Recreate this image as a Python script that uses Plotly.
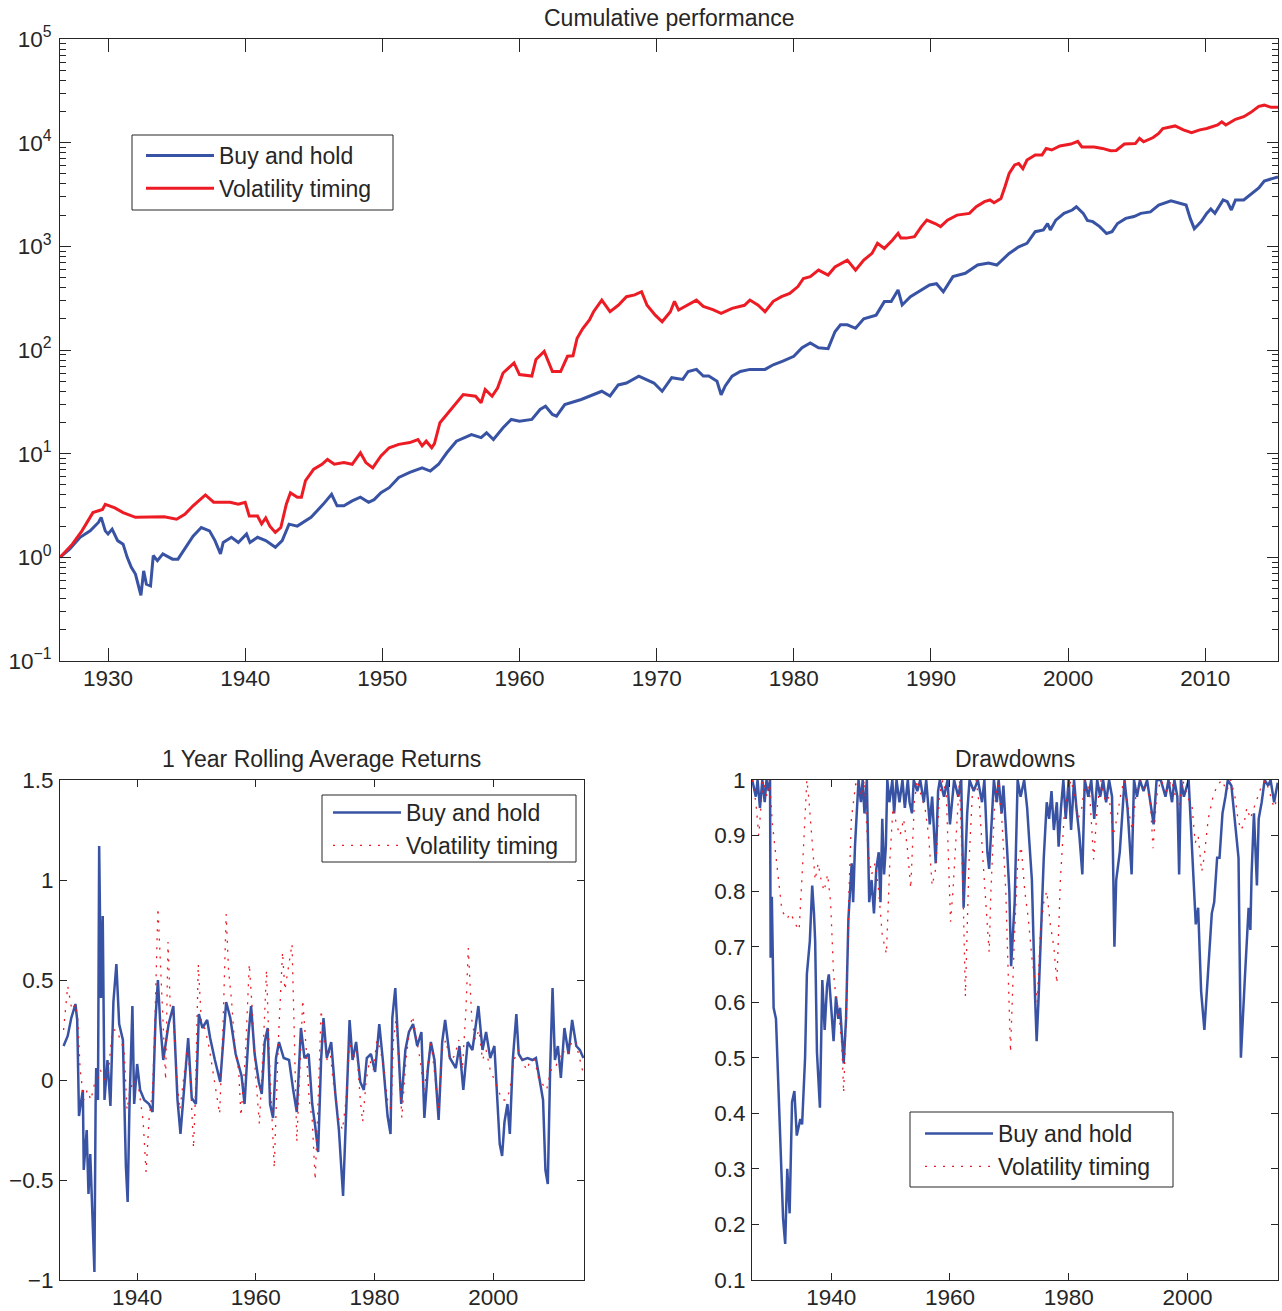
import plotly.graph_objects as go

# ---------------- data ----------------
# Cumulative performance (log scale)
cum_years_bh = [1926.5, 1927.2, 1927.97, 1928.7, 1929.3, 1929.5, 1929.8, 1930.0, 1930.3, 1930.7,
                1931.1, 1931.4, 1931.7, 1932.0, 1932.4, 1932.6, 1932.8, 1933.1, 1933.3, 1933.6,
                1934.0, 1934.7, 1935.1, 1935.6, 1936.2, 1936.8, 1937.4, 1937.8, 1938.2, 1938.4,
                1939.0, 1939.5, 1940.1, 1940.35, 1940.9, 1941.5, 1942.2, 1942.7, 1943.2, 1943.8,
                1944.8, 1945.7, 1946.3, 1946.7, 1947.2, 1947.8, 1948.4, 1949.0, 1949.4, 1949.9,
                1950.5, 1951.2, 1952.0, 1952.9, 1953.5, 1954.1, 1954.7, 1955.4, 1956.5, 1957.2,
                1957.6, 1958.1, 1958.8, 1959.4, 1960.0, 1960.9, 1961.5, 1961.9, 1962.4, 1962.7,
                1963.3, 1964.5, 1965.4, 1966.0, 1966.6, 1967.2, 1967.8, 1968.7, 1969.8, 1970.4,
                1971.1, 1971.9, 1972.3, 1972.9, 1973.4, 1973.8, 1974.4, 1974.7, 1975.0, 1975.5,
                1976.1, 1976.8, 1977.9, 1978.5, 1979.2, 1980.0, 1980.6, 1981.2, 1981.8, 1982.5,
                1983.0, 1983.4, 1983.9, 1984.5, 1985.1, 1986.0, 1986.6, 1987.1, 1987.6, 1987.9,
                1988.5, 1989.3, 1989.9, 1990.4, 1990.9, 1991.6, 1992.5, 1993.4, 1994.2, 1994.8,
                1995.7, 1996.4, 1997.0, 1997.6, 1998.2, 1998.5, 1998.7, 1999.1, 1999.7, 2000.3,
                2000.6, 2001.1, 2001.4, 2001.8, 2002.3, 2002.8, 2003.2, 2003.6, 2004.2, 2004.8,
                2005.3, 2006.0, 2006.6, 2007.5, 2008.1, 2008.6, 2008.9, 2009.2, 2009.7, 2010.1,
                2010.4, 2010.7, 2011.3, 2011.6, 2011.9, 2012.2, 2012.8, 2013.3, 2013.9, 2014.3,
                2014.9, 2015.3]
cum_bh = [1.0, 1.2, 1.56, 1.8, 2.17, 2.43, 1.8, 1.68, 1.87, 1.45,
          1.34, 1.0, 0.80, 0.69, 0.43, 0.74, 0.55, 0.53, 1.04, 0.93,
          1.08, 0.96, 0.96, 1.2, 1.6, 1.94, 1.8, 1.45, 1.08, 1.39,
          1.56, 1.39, 1.68, 1.39, 1.56, 1.45, 1.25, 1.45, 2.09, 2.0,
          2.43, 3.26, 4.06, 3.14, 3.14, 3.5, 3.8, 3.4, 3.6, 4.2,
          4.7, 5.9, 6.6, 7.3, 6.8, 7.9, 10.2, 13.2, 15.3, 14.3,
          15.9, 13.7, 17.8, 21.4, 20.6, 21.4, 26.7, 28.7, 23.9, 23.0,
          29.8, 33.3, 37.2, 40.0, 36.0, 46.0, 48.0, 56.0, 48.0, 40.0,
          54.0, 52.0, 62.0, 65.0, 56.0, 56.0, 50.0, 37.0, 45.0, 56.0,
          62.0, 65.0, 65.0, 72.0, 78.0, 87.0, 105.0, 117.0, 105.0, 103.0,
          150.0, 175.0, 175.0, 162.0, 200.0, 217.0, 293.0, 293.0, 380.0, 272.0,
          327.0, 380.0, 424.0, 436.0, 365.0, 510.0, 550.0, 660.0, 690.0, 660.0,
          855.0, 990.0, 1070.0, 1385.0, 1440.0, 1660.0, 1440.0, 1790.0, 2080.0, 2240.0,
          2410.0, 2080.0, 1780.0, 1730.0, 1550.0, 1330.0, 1385.0, 1660.0, 1860.0, 1940.0,
          2080.0, 2150.0, 2500.0, 2750.0, 2630.0, 2500.0, 1860.0, 1480.0, 1730.0, 2080.0,
          2290.0, 2080.0, 2800.0, 2700.0, 2240.0, 2800.0, 2800.0, 3140.0, 3650.0, 4270.0,
          4540.0, 4680.0]

cum_years_vt = [1926.5, 1927.4, 1928.1, 1928.9, 1929.6, 1929.8, 1930.5, 1931.1, 1932.0, 1933.2,
                1934.1, 1935.0, 1935.6, 1936.2, 1937.1, 1937.7, 1938.9, 1939.5, 1940.0, 1940.3,
                1940.9, 1941.2, 1941.5, 1941.8, 1942.2, 1942.6, 1943.0, 1943.3, 1943.8, 1944.1,
                1944.4, 1945.0, 1945.6, 1946.0, 1946.5, 1947.2, 1947.8, 1948.4, 1948.8, 1949.3,
                1949.9, 1950.5, 1951.2, 1952.0, 1952.6, 1952.9, 1953.2, 1953.6, 1953.8, 1954.2,
                1954.7, 1955.3, 1955.9, 1956.8, 1957.2, 1957.5, 1958.0, 1958.4, 1958.8, 1959.6,
                1960.0, 1960.9, 1961.2, 1961.8, 1962.4, 1963.0, 1963.5, 1963.9, 1964.2, 1964.6,
                1965.1, 1965.4, 1966.0, 1966.6, 1967.2, 1967.8, 1968.4, 1968.9, 1969.3, 1969.9,
                1970.4, 1971.0, 1971.3, 1971.6, 1972.2, 1972.9, 1973.4, 1974.1, 1974.7, 1975.5,
                1976.4, 1976.8, 1977.4, 1977.9, 1978.5, 1979.1, 1979.7, 1980.3, 1980.7, 1981.2,
                1981.8, 1982.5, 1983.0, 1983.9, 1984.5, 1985.1, 1985.7, 1986.1, 1986.6, 1987.2,
                1987.6, 1987.8, 1988.2, 1988.8, 1989.3, 1989.7, 1990.3, 1990.7, 1991.2, 1991.9,
                1992.8, 1993.3, 1993.9, 1994.3, 1994.6, 1995.1, 1995.4, 1995.7, 1996.1, 1996.4,
                1996.7, 1997.0, 1997.6, 1998.1, 1998.4, 1998.8, 1999.4, 2000.2, 2000.7, 2001.0,
                2001.9, 2002.5, 2003.1, 2003.5, 2004.1, 2004.9, 2005.2, 2005.5, 2006.2, 2006.6,
                2006.9, 2007.8, 2008.4, 2009.0, 2009.6, 2010.1, 2010.9, 2011.2, 2011.5, 2012.2,
                2012.8, 2013.3, 2013.9, 2014.3, 2014.8, 2015.3]
cum_vt = [1.0, 1.34, 1.8, 2.7, 2.9, 3.25, 3.0, 2.7, 2.43, 2.43,
          2.46, 2.33, 2.6, 3.14, 4.0, 3.4, 3.4, 3.25, 3.4, 2.5,
          2.5, 2.1, 2.4, 2.0, 1.74, 1.94, 3.26, 4.2, 3.8, 3.8,
          5.5, 7.1, 7.9, 8.8, 7.9, 8.2, 7.9, 10.2, 8.2, 7.3,
          9.5, 11.4, 12.3, 12.8, 13.7, 11.9, 13.2, 11.4, 12.5, 19.9,
          23.9, 29.8, 37.2, 35.8, 31.0, 41.6, 35.8, 43.0, 60.0, 75.0,
          58.0, 56.0, 81.0, 97.0, 62.0, 62.0, 87.0, 88.0, 130.0, 160.0,
          195.0, 234.0, 303.0, 234.0, 270.0, 327.0, 340.0, 365.0, 270.0, 217.0,
          187.0, 234.0, 295.0, 243.0, 271.0, 303.0, 263.0, 245.0, 226.0, 252.0,
          270.0, 303.0, 271.0, 234.0, 295.0, 327.0, 352.0, 409.0, 490.0, 510.0,
          590.0, 528.0, 632.0, 737.0, 590.0, 737.0, 855.0, 1070.0, 955.0, 1150.0,
          1334.0, 1200.0, 1200.0, 1240.0, 1550.0, 1790.0, 1660.0, 1550.0, 1790.0, 2000.0,
          2080.0, 2410.0, 2700.0, 2800.0, 2630.0, 2900.0, 3780.0, 5050.0, 6100.0, 6300.0,
          5620.0, 6790.0, 7620.0, 7620.0, 8800.0, 8500.0, 9300.0, 9700.0, 10300.0, 9100.0,
          9100.0, 8800.0, 8350.0, 8400.0, 9700.0, 9800.0, 11000.0, 10200.0, 11200.0, 12300.0,
          13700.0, 14500.0, 13300.0, 12500.0, 13300.0, 13700.0, 14800.0, 15900.0, 14800.0, 16800.0,
          17800.0, 19500.0, 22400.0, 23000.0, 21900.0, 21900.0]

# 1 Year Rolling Average Returns
roll_years_bh = [1927.6, 1928.3, 1928.9, 1929.6, 1929.9, 1930.2, 1930.85, 1931.0, 1931.5, 1931.8,
                 1932.1, 1932.5, 1932.8, 1933.0, 1933.1, 1933.4, 1933.6, 1933.9, 1934.2, 1934.5,
                 1935.0, 1935.5, 1936.0, 1936.5, 1936.97, 1937.6, 1938.1, 1938.4, 1938.7, 1939.2,
                 1939.5, 1940.0, 1940.5, 1941.2, 1942.0, 1942.6, 1943.1, 1943.5, 1943.9, 1944.4,
                 1945.3, 1946.1, 1946.8, 1947.3, 1947.9, 1948.6, 1949.2, 1949.9, 1950.4, 1951.0,
                 1951.8, 1952.3, 1953.1, 1954.0, 1955.0, 1955.7, 1956.6, 1957.6, 1958.1, 1958.8,
                 1959.2, 1959.8, 1960.5, 1961.0, 1961.5, 1962.0, 1962.4, 1962.9, 1963.4, 1963.9,
                 1964.7, 1965.6, 1966.3, 1966.9, 1967.6, 1968.2, 1968.9, 1969.5, 1970.0, 1970.5,
                 1971.0, 1971.4, 1971.96, 1972.7, 1973.4, 1974.0, 1974.7, 1975.2, 1975.8, 1976.3,
                 1976.9, 1977.6, 1978.2, 1978.7, 1979.4, 1980.1, 1980.8, 1981.4, 1982.2, 1982.7,
                 1983.0, 1983.5, 1984.0, 1984.5, 1985.2, 1985.8, 1986.5, 1987.2, 1987.9, 1988.4,
                 1989.0, 1989.5, 1990.1, 1990.8, 1991.4, 1991.9, 1992.7, 1993.7, 1994.3, 1994.96,
                 1995.7, 1996.5, 1997.5, 1998.2, 1998.8, 1999.5, 2000.2, 2000.8, 2001.1, 2001.5,
                 2001.9, 2002.4, 2002.8, 2003.3, 2003.9, 2004.3, 2004.9, 2005.8, 2006.6, 2007.2,
                 2007.9, 2008.4, 2008.8, 2009.2, 2009.6, 2010.0, 2010.4, 2010.9, 2011.4, 2012.0,
                 2012.7, 2013.3, 2014.0, 2014.6, 2015.2]
roll_bh = [0.17, 0.22, 0.31, 0.38, 0.30, -0.18, -0.05, -0.45, -0.25, -0.57,
           -0.37, -0.74, -0.96, -0.12, 0.06, -0.10, 1.17, 0.41, 0.82, -0.10,
           0.10, -0.13, 0.39, 0.58, 0.28, 0.20, -0.43, -0.61, -0.14, 0.37,
           -0.12, 0.08, -0.05, -0.10, -0.12, -0.16, 0.31, 0.50, 0.28, 0.10,
           0.28, 0.37, -0.10, -0.27, -0.05, 0.21, -0.09, -0.12, 0.33, 0.26,
           0.30, 0.21, 0.10, -0.01, 0.39, 0.31, 0.13, 0.02, -0.12, 0.24,
           0.37, 0.13, -0.01, -0.07, 0.19, 0.26, -0.12, -0.19, 0.11, 0.19,
           0.11, 0.10, -0.05, -0.16, 0.26, 0.11, 0.13, -0.12, -0.23, -0.36,
           0.10, 0.31, 0.11, 0.19, -0.07, -0.25, -0.58, -0.21, 0.30, 0.10,
           0.19, -0.01, -0.05, 0.11, 0.13, 0.04, 0.28, 0.10, -0.18, -0.27,
           0.31, 0.46, 0.15, -0.12, 0.15, 0.24, 0.28, 0.17, 0.24, -0.19,
           0.06, 0.19, 0.10, -0.20, 0.19, 0.30, 0.11, 0.06, 0.17, -0.05,
           0.19, 0.15, 0.37, 0.15, 0.24, 0.11, 0.17, -0.12, -0.32, -0.38,
           -0.21, -0.12, -0.27, 0.10, 0.33, 0.13, 0.10, 0.11, 0.10, 0.11,
           -0.01, -0.10, -0.45, -0.52, 0.06, 0.46, 0.10, 0.17, 0.01, 0.26,
           0.13, 0.30, 0.17, 0.15, 0.11]

roll_years_vt = [1927.6, 1928.3, 1929.0, 1929.6, 1930.0, 1930.4, 1931.0, 1931.6, 1932.2, 1932.8,
                 1933.3, 1933.8, 1934.5, 1935.2, 1935.8, 1936.5, 1937.2, 1937.8, 1938.3, 1938.8,
                 1939.5, 1940.3, 1941.0, 1941.5, 1942.0, 1942.6, 1943.0, 1943.5, 1943.9, 1944.3,
                 1944.8, 1945.2, 1945.6, 1946.1, 1946.7, 1947.2, 1947.8, 1948.4, 1948.9, 1949.5,
                 1949.8, 1950.3, 1950.8, 1951.5, 1952.2, 1952.7, 1953.3, 1953.9, 1954.5, 1955.0,
                 1955.4, 1955.9, 1956.5, 1957.1, 1957.5, 1958.2, 1958.9, 1959.4, 1959.9, 1960.6,
                 1961.3, 1961.8, 1962.3, 1962.8, 1963.1, 1963.8, 1964.5, 1964.9, 1965.6, 1966.1,
                 1966.5, 1966.9, 1967.5, 1967.9, 1968.5, 1969.0, 1969.5, 1970.0, 1970.5, 1971.0,
                 1971.5, 1972.0, 1972.5, 1973.0, 1973.5, 1974.0, 1974.6, 1975.2, 1975.8, 1976.3,
                 1977.0, 1977.6, 1978.0, 1978.6, 1979.2, 1979.8, 1980.4, 1981.0, 1981.6, 1982.2,
                 1982.8, 1983.2, 1983.6, 1984.2, 1984.6, 1985.3, 1985.9, 1986.4, 1987.1, 1987.7,
                 1988.3, 1988.9, 1989.5, 1990.2, 1990.8, 1991.4, 1992.0, 1992.7, 1993.5, 1994.2,
                 1994.8, 1995.4, 1995.8, 1996.4, 1997.0, 1997.6, 1998.2, 1998.8, 1999.5, 2000.2,
                 2000.8, 2001.5, 2002.2, 2002.8, 2003.5, 2004.2, 2004.9, 2005.6, 2006.3, 2007.0,
                 2007.7, 2008.3, 2009.0, 2009.7, 2010.3, 2011.0, 2011.7, 2012.4, 2013.1, 2013.8,
                 2014.5, 2015.2]
roll_vt = [0.25, 0.47, 0.35, 0.38, 0.30, 0.05, -0.10, -0.05, -0.10, -0.02,
           0.00, 0.05, 0.00, 0.05, 0.25, 0.25, 0.20, 0.15, -0.15, -0.05,
           0.00, -0.05, -0.20, -0.46, -0.20, -0.05, 0.30, 0.86, 0.60, 0.30,
           0.00, 0.69, 0.35, 0.30, 0.00, -0.15, 0.00, 0.15, 0.05, -0.34,
           -0.10, 0.58, 0.30, 0.25, 0.15, 0.05, -0.05, -0.17, 0.30, 0.83,
           0.55, 0.40, 0.15, 0.05, -0.18, 0.10, 0.58, 0.35, 0.05, -0.22,
           0.20, 0.55, 0.10, -0.20, -0.44, 0.20, 0.64, 0.45, 0.58, 0.68,
           0.20, -0.31, 0.10, 0.40, 0.15, -0.10, -0.20, -0.50, -0.10, 0.35,
           0.20, 0.10, 0.15, 0.00, -0.10, -0.20, -0.25, -0.10, 0.20, 0.10,
           0.15, -0.10, -0.21, 0.00, 0.10, 0.05, 0.20, 0.15, 0.05, -0.10,
           -0.15, 0.20, 0.30, 0.05, -0.19, 0.10, 0.25, 0.32, 0.20, 0.10,
           -0.05, 0.05, 0.20, 0.00, -0.15, 0.15, 0.20, 0.10, 0.12, 0.20,
           0.05, 0.35, 0.66, 0.30, 0.20, 0.25, 0.10, 0.15, 0.05, 0.00,
           -0.05, -0.10, -0.10, -0.05, 0.10, 0.15, 0.10, 0.05, 0.10, 0.10,
           0.00, -0.02, -0.05, 0.05, 0.05, 0.10, 0.15, 0.12, 0.18, 0.20,
           0.12, 0.03]

# Drawdowns
dd_years_bh = [1926.7, 1927.3, 1927.6, 1928.0, 1928.4, 1928.8, 1929.1, 1929.5, 1929.7, 1929.8,
               1930.0, 1930.3, 1930.7, 1931.0, 1931.3, 1931.6, 1931.9, 1932.25, 1932.6, 1933.0,
               1933.4, 1933.8, 1934.2, 1934.8, 1935.1, 1935.6, 1935.9, 1936.4, 1936.8, 1937.1,
               1937.3, 1937.6, 1938.1, 1938.5, 1938.9, 1939.3, 1939.6, 1940.0, 1940.4, 1940.8,
               1941.2, 1941.5, 1942.1, 1942.5, 1942.9, 1943.45, 1943.7, 1944.0, 1944.3, 1944.6,
               1945.0, 1945.3, 1945.6, 1946.0, 1946.4, 1946.8, 1947.2, 1947.6, 1948.0, 1948.3,
               1948.6, 1948.9, 1949.2, 1949.45, 1949.8, 1950.3, 1950.6, 1951.0, 1951.5, 1952.0,
               1952.4, 1952.9, 1953.2, 1953.6, 1953.9, 1954.5, 1955.0, 1955.6, 1956.0, 1956.6,
               1957.0, 1957.6, 1958.0, 1958.3, 1959.0, 1959.6, 1960.0, 1960.4, 1960.7, 1961.4,
               1961.9, 1962.3, 1962.7, 1962.9, 1963.3, 1964.0, 1964.7, 1965.4, 1965.8, 1966.3,
               1966.6, 1966.9, 1967.4, 1967.9, 1968.2, 1968.7, 1969.0, 1969.6, 1970.0, 1970.3,
               1970.9, 1971.4, 1971.9, 1972.5, 1973.0, 1973.3, 1973.8, 1974.3, 1974.6, 1974.9,
               1975.4, 1975.8, 1976.3, 1976.7, 1977.1, 1977.5, 1978.0, 1978.3, 1978.7, 1979.1,
               1979.5, 1980.0, 1980.4, 1980.9, 1981.3, 1981.8, 1982.3, 1982.7, 1983.3, 1983.8,
               1984.3, 1984.8, 1985.3, 1985.8, 1986.3, 1986.8, 1987.3, 1987.7, 1988.0, 1988.6,
               1989.1, 1989.4, 1989.9, 1990.6, 1991.0, 1991.5, 1992.0, 1992.6, 1993.2, 1993.8,
               1994.3, 1994.8, 1995.5, 1996.3, 1996.8, 1997.4, 1997.8, 1998.3, 1998.6, 1998.9,
               1999.4, 2000.2, 2000.8, 2001.4, 2001.8, 2002.3, 2002.85, 2003.2, 2003.7, 2004.1,
               2004.5, 2005.0, 2005.4, 2005.9, 2006.4, 2006.8, 2007.4, 2007.9, 2008.3, 2008.6,
               2009.0, 2009.3, 2009.7, 2010.3, 2010.6, 2010.8, 2011.2, 2011.7, 2012.0, 2012.5,
               2013.0, 2013.6, 2014.0, 2014.6, 2015.2]
dd_bh = [1.00, 0.97, 1.00, 0.95, 1.00, 0.96, 1.00, 0.98, 1.00, 0.68,
         0.79, 0.59, 0.57, 0.48, 0.42, 0.31, 0.21, 0.165, 0.30, 0.22,
         0.42, 0.44, 0.36, 0.39, 0.38, 0.50, 0.65, 0.71, 0.81, 0.76,
         0.71, 0.51, 0.41, 0.64, 0.55, 0.63, 0.65, 0.59, 0.53, 0.61,
         0.57, 0.59, 0.49, 0.57, 0.75, 0.85, 0.78, 0.88, 0.94, 1.00,
         0.96, 1.00, 0.94, 1.00, 0.78, 0.82, 0.76, 0.84, 0.87, 0.78,
         0.93, 0.83, 0.88, 1.00, 0.96, 1.00, 0.94, 1.00, 0.96, 1.00,
         0.95, 1.00, 0.96, 0.94, 1.00, 0.98, 1.00, 0.96, 1.00, 0.92,
         0.97, 0.85, 0.98, 1.00, 0.97, 1.00, 0.92, 0.97, 1.00, 0.97,
         1.00, 0.77, 0.88, 0.94, 1.00, 0.98, 1.00, 0.96, 1.00, 0.87,
         0.84, 0.90, 1.00, 0.96, 1.00, 0.94, 0.99, 0.88, 0.80, 0.665,
         0.78, 1.00, 0.97, 1.00, 0.95, 0.90, 0.82, 0.62, 0.53, 0.60,
         0.75, 0.86, 0.96, 0.93, 0.98, 0.91, 0.96, 0.88, 0.95, 1.00,
         0.93, 1.00, 0.91, 1.00, 0.95, 0.90, 0.83, 1.00, 0.97, 1.00,
         0.93, 1.00, 0.97, 1.00, 0.96, 1.00, 0.97, 0.70, 0.82, 0.87,
         0.95, 1.00, 0.95, 0.83, 1.00, 0.97, 1.00, 0.98, 1.00, 0.96,
         0.92, 1.00, 1.00, 0.97, 1.00, 0.96, 1.00, 0.97, 0.83, 1.00,
         0.97, 1.00, 0.88, 0.74, 0.77, 0.62, 0.55, 0.61, 0.71, 0.76,
         0.78, 0.86, 0.86, 0.94, 0.97, 1.00, 0.99, 0.93, 0.89, 0.86,
         0.50, 0.57, 0.65, 0.77, 0.73, 0.83, 0.94, 0.81, 0.93, 0.96,
         1.00, 0.99, 1.00, 0.96, 0.995]

dd_years_vt = [1926.7, 1927.3, 1927.8, 1928.5, 1929.2, 1929.6, 1930.1, 1930.6, 1931.2, 1931.7,
               1932.5, 1933.2, 1934.0, 1934.6, 1935.2, 1935.9, 1936.2, 1936.8, 1937.3, 1937.8,
               1938.3, 1938.8, 1939.4, 1939.9, 1940.4, 1940.8, 1941.3, 1941.8, 1942.1, 1942.6,
               1943.0, 1943.4, 1943.8, 1944.2, 1945.0, 1945.6, 1946.2, 1946.8, 1947.4, 1948.0,
               1948.6, 1949.3, 1949.9, 1950.4, 1951.0, 1951.6, 1952.2, 1952.8, 1953.4, 1954.0,
               1954.5, 1955.2, 1955.8, 1956.4, 1957.0, 1957.6, 1958.2, 1958.8, 1959.4, 1960.1,
               1960.5, 1961.0, 1961.6, 1962.2, 1962.6, 1963.2, 1963.8, 1964.4, 1965.0, 1965.6,
               1966.6, 1966.9, 1967.5, 1968.1, 1968.8, 1969.4, 1969.9, 1970.2, 1970.8, 1971.4,
               1972.0, 1972.6, 1973.2, 1973.8, 1974.3, 1974.7, 1975.2, 1975.8, 1976.3, 1976.9,
               1977.5, 1978.0, 1978.6, 1979.2, 1979.8, 1980.4, 1981.0, 1981.6, 1982.2, 1982.8,
               1983.5, 1984.2, 1984.8, 1985.4, 1986.2, 1986.8, 1987.5, 1988.1, 1988.7, 1989.3,
               1990.0, 1990.7, 1991.3, 1992.0, 1993.0, 1993.7, 1994.2, 1994.8, 1995.5, 1996.5,
               1997.3, 1998.0, 1998.6, 1999.2, 2000.0, 2000.8, 2001.3, 2001.8, 2002.4, 2002.8,
               2003.5, 2004.3, 2005.0, 2005.8, 2006.6, 2007.3, 2008.0, 2008.5, 2009.0, 2009.5,
               2010.0, 2010.6, 2011.2, 2011.8, 2012.5, 2013.2, 2014.0, 2014.6, 2015.2]
dd_vt = [1.00, 0.96, 0.90, 1.00, 0.97, 1.00, 0.92, 0.87, 0.82, 0.765,
         0.75, 0.76, 0.74, 0.73, 0.85, 1.00, 0.97, 0.88, 0.82, 0.85,
         0.82, 0.80, 0.83, 0.78, 0.65, 0.61, 0.58, 0.52, 0.437, 0.60,
         0.80, 0.93, 0.97, 1.00, 0.97, 1.00, 0.87, 0.83, 0.85, 0.80,
         0.72, 0.687, 0.86, 0.95, 0.92, 0.90, 0.93, 0.88, 0.805, 0.96,
         1.00, 0.97, 0.95, 0.90, 0.81, 0.84, 0.97, 1.00, 0.97, 0.745,
         0.80, 0.90, 1.00, 0.80, 0.61, 0.85, 0.98, 1.00, 0.95, 0.85,
         0.69, 0.80, 0.95, 1.00, 0.92, 0.80, 0.62, 0.51, 0.70, 0.85,
         0.88, 0.80, 0.75, 0.68, 0.64, 0.60, 0.72, 0.78, 0.80, 0.74,
         0.70, 0.634, 0.82, 0.93, 0.98, 1.00, 0.97, 0.93, 0.95, 1.00,
         0.98, 0.857, 0.95, 1.00, 0.96, 0.97, 0.90, 0.93, 0.97, 1.00,
         0.95, 0.91, 0.97, 1.00, 0.98, 0.97, 0.877, 0.97, 1.00, 0.98,
         1.00, 0.97, 0.95, 1.00, 0.97, 0.95, 0.887, 0.90, 0.835, 0.86,
         0.93, 0.97, 0.99, 1.00, 0.98, 1.00, 0.97, 0.93, 0.91, 0.92,
         0.95, 0.93, 0.95, 0.97, 0.99, 1.00, 0.97, 0.95, 0.97]

series_names = ["Buy and hold", "Volatility timing"]
top_xticks = [1930, 1940, 1950, 1960, 1970, 1980, 1990, 2000, 2010]
top_yticks = [0.1, 1, 10, 100, 1000, 10000, 100000]
top_ytext = ["10<sup>\u22121</sup>", "10<sup>0</sup>", "10<sup>1</sup>", "10<sup>2</sup>",
             "10<sup>3</sup>", "10<sup>4</sup>", "10<sup>5</sup>"]
bottom_xticks = [1940, 1960, 1980, 2000]

# ---------------- figure ----------------
W, H = 1282, 1311
BLUE = "#3953A4"
RED = "#ED1C24"
INK = "#262626"
FONT = "Liberation Sans"
TICK_SIZE = 22.5
TEXT_SIZE = 23


def xd(p0, p1):
    return [p0 / W, p1 / W]


def yd(top, bottom):
    return [(H - bottom) / H, (H - top) / H]


fig = go.Figure()

# top panel
fig.add_trace(go.Scatter(x=cum_years_bh, y=cum_bh, mode="lines", name=series_names[0],
                         line=dict(color=BLUE, width=3), xaxis="x", yaxis="y", legend="legend"))
fig.add_trace(go.Scatter(x=cum_years_vt, y=cum_vt, mode="lines", name=series_names[1],
                         line=dict(color=RED, width=3), xaxis="x", yaxis="y", legend="legend"))
# bottom-left
fig.add_trace(go.Scatter(x=roll_years_bh, y=roll_bh, mode="lines", name=series_names[0],
                         line=dict(color=BLUE, width=2.5), xaxis="x2", yaxis="y2", legend="legend2"))
fig.add_trace(go.Scatter(x=roll_years_vt, y=roll_vt, mode="lines", name=series_names[1],
                         line=dict(color=RED, width=1.3, dash="2px,7px"), xaxis="x2", yaxis="y2",
                         legend="legend2"))
# bottom-right
fig.add_trace(go.Scatter(x=dd_years_bh, y=dd_bh, mode="lines", name=series_names[0],
                         line=dict(color=BLUE, width=2.5), xaxis="x3", yaxis="y3", legend="legend3"))
fig.add_trace(go.Scatter(x=dd_years_vt, y=dd_vt, mode="lines", name=series_names[1],
                         line=dict(color=RED, width=1.3, dash="2px,7px"), xaxis="x3", yaxis="y3",
                         legend="legend3"))


def axis_style(ticklen, standoff, mirror="ticks"):
    return dict(showline=True, linecolor=INK, linewidth=1, mirror=mirror, ticks="inside",
                ticklen=ticklen, tickwidth=1, tickcolor=INK, showgrid=False, zeroline=False,
                automargin=False, ticklabelstandoff=standoff,
                tickfont=dict(family=FONT, size=TICK_SIZE, color=INK), fixedrange=True)


def legend_style(px, py):
    return dict(x=px / W, y=(H - py) / H, xanchor="left", yanchor="top",
                bgcolor="rgba(0,0,0,0)", borderwidth=0,
                font=dict(family=FONT, size=TEXT_SIZE, color=INK),
                itemwidth=68, tracegroupgap=0)


def legend_box(x0, y0, x1, y1):
    return dict(type="rect", xref="paper", yref="paper", layer="above",
                x0=x0 / W, x1=x1 / W, y0=(H - y1) / H, y1=(H - y0) / H,
                fillcolor="white", line=dict(color=INK, width=1))


def title_note(text, px, py):
    return dict(text=text, x=px / W, y=(H - py) / H, xref="paper", yref="paper",
                xanchor="center", yanchor="middle", showarrow=False,
                font=dict(family=FONT, size=TEXT_SIZE, color=INK))


fig.update_layout(
    template="none",
    width=W, height=H, margin=dict(l=0, r=0, t=0, b=0, pad=0), autosize=False,
    paper_bgcolor="white", plot_bgcolor="white",
    font=dict(family=FONT, size=TICK_SIZE, color=INK),
    xaxis=dict(domain=xd(60, 1278), anchor="y", range=[1926.5, 2015.3], tickvals=top_xticks,
               **axis_style(13, -3)),
    yaxis=dict(domain=yd(39, 661), anchor="x", type="log", range=[-1, 5], tickvals=top_yticks,
               ticktext=top_ytext,
               minor=dict(ticks="inside", ticklen=6, tickcolor=INK, dtick="D1", showgrid=False),
               **axis_style(11, 3, mirror="allticks")),
    xaxis2=dict(domain=xd(60, 584), anchor="y2", range=[1927.0, 2015.3], tickvals=bottom_xticks,
                **axis_style(7, -3)),
    yaxis2=dict(domain=yd(780, 1280), anchor="x2", range=[-1, 1.5], dtick=0.5, tick0=0,
                **axis_style(7, 1)),
    xaxis3=dict(domain=xd(752, 1278), anchor="y3", range=[1926.66, 2015.25], tickvals=bottom_xticks,
                **axis_style(7, -3)),
    yaxis3=dict(domain=yd(780, 1280), anchor="x3", range=[0.1, 1.0], dtick=0.1, tick0=0,
                **axis_style(7, 1)),
    showlegend=True,
    legend=legend_style(141, 134),
    legend2=legend_style(328, 791),
    legend3=legend_style(920, 1112),
    shapes=[
        legend_box(132, 135, 393, 210),
        legend_box(322, 795, 576, 862),
        legend_box(910, 1112, 1173, 1187),
    ],
    annotations=[
        title_note("Cumulative performance", 669, 18),
        title_note("1 Year Rolling Average Returns", 322, 759),
        title_note("Drawdowns", 1015, 759),
    ],
)

# pin the chart to the top-left corner of the page so nothing shifts or rescales it
pin_page = (
    "document.documentElement.style.margin='0';document.documentElement.style.padding='0';"
    "document.documentElement.style.overflow='hidden';"
    "document.body.style.margin='0';document.body.style.padding='0';document.body.style.overflow='hidden';"
    "var gd=document.getElementById('{plot_id}');"
    "gd.style.position='fixed';gd.style.left='0px';gd.style.top='0px';"
)

fig.write_html("out.html", post_script=pin_page, config={"displayModeBar": False})
